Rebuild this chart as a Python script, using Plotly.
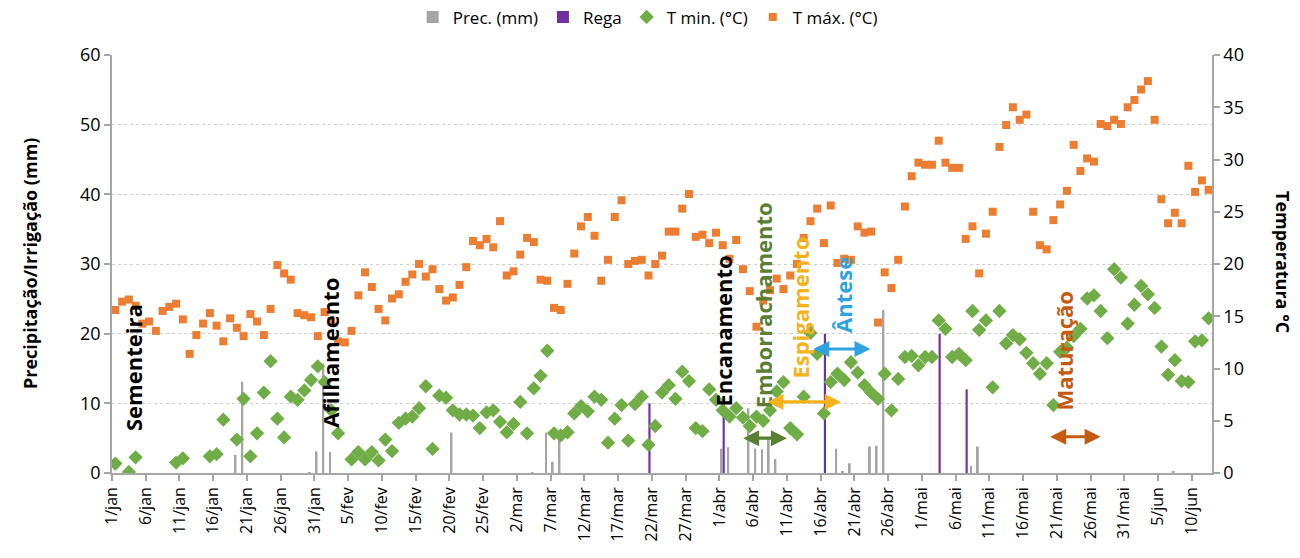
import plotly.graph_objects as go

# ---------------- data ----------------
tick_labels = ["1/jan", "6/jan", "11/jan", "16/jan", "21/jan", "26/jan", "31/jan",
               "5/fev", "10/fev", "15/fev", "20/fev", "25/fev",
               "2/mar", "7/mar", "12/mar", "17/mar", "22/mar", "27/mar",
               "1/abr", "6/abr", "11/abr", "16/abr", "21/abr", "26/abr",
               "1/mai", "6/mai", "11/mai", "16/mai", "21/mai", "26/mai", "31/mai",
               "5/jun", "10/jun"]

# day index since 1/jan (0 .. 162 -> 12/jun)
n_days = 163
days = list(range(n_days))

t_max = [15.6, 16.4, 16.6, 16.0, 14.3, 14.5, 13.6, 15.5, 15.9, 16.2,
         14.7, 11.4, 13.2, 14.3, 15.3, 14.1, 12.6, 14.8, 13.9, 13.1,
         15.2, 14.5, 13.2, 15.7, 19.9, 19.1, 18.5, 15.3, 15.1, 14.9,
         13.1, 15.4, 14.5, 12.6, 12.5, 13.6, 17.0, 19.2, 17.8, 15.7,
         14.6, 16.7, 17.1, 18.3, 19.0, 20.0, 18.8, 19.5, 17.6, 16.5,
         16.8, 18.0, 19.7, 22.2, 21.8, 22.4, 21.6, 24.1, 18.9, 19.3,
         20.9, 22.5, 22.1, 18.5, 18.4, 15.8, 15.6, 18.1, 21.0, 23.6,
         24.5, 22.7, 18.4, 20.4, 24.5, 26.1, 20.0, 20.3, 20.4, 18.9,
         20.0, 20.8, 23.1, 23.1, 25.3, 26.7, 22.6, 22.8, 22.0, 23.0,
         21.8, 20.5, 22.3, 19.5, 17.4, 14.0, 16.5, 17.5, 18.6, 17.6,
         18.9, 20.0, 22.5, 24.1, 25.3, 22.0, 25.6, 20.1, 20.5, 20.4,
         23.6, 23.0, 23.1, 14.4, 19.2, 17.7, 20.4, 25.5, 28.4, 29.7,
         29.5, 29.5, 31.8, 29.7, 29.2, 29.2, 22.4, 23.6, 19.1, 22.9,
         25.0, 31.2, 33.3, 35.0, 33.8, 34.3, 25.0, 21.8, 21.4, 24.2,
         25.7, 27.0, 31.4, 28.9, 30.1, 29.8, 33.4, 33.2, 33.8, 33.4,
         35.0, 35.7, 36.7, 37.5, 33.8, 26.2, 23.9, 24.9, 23.9, 29.4,
         26.9, 28.0, 27.1]

# None = below 0 °C (outside the axis range in the original chart)
t_min = [0.9, None, 0.1, 1.5, None, None, None, None, None, 1.0,
         1.4, None, None, None, 1.6, 1.8, 5.1, None, 3.2, 7.1,
         1.6, 3.8, 7.7, 10.7, 5.2, 3.4, 7.3, 7.0, 7.9, 8.9,
         10.2, 8.7, 6.0, 3.8, None, 1.3, 2.0, 1.3, 2.0, 1.2,
         3.2, 2.1, 4.8, 5.2, 5.4, 6.2, 8.3, 2.3, 7.4, 7.2,
         6.0, 5.6, 5.6, 5.5, 4.3, 5.8, 6.0, 4.9, 3.9, 4.7,
         6.8, 3.8, 8.1, 9.3, 11.7, 3.8, 3.6, 3.9, 5.7, 6.4,
         5.9, 7.3, 7.0, 2.9, 5.2, 6.5, 3.1, 6.6, 7.3, 2.7,
         4.5, 7.7, 8.4, 7.1, 9.7, 8.8, 4.3, 4.0, 8.0, 7.0,
         6.0, 5.4, 6.2, 5.3, 4.5, 5.4, 5.0, 6.0, 7.8, 8.7,
         4.3, 3.7, 7.3, 13.4, 11.4, 5.7, 8.7, 9.5, 8.9, 10.6,
         9.6, 8.4, 7.7, 7.1, 9.5, 6.0, 9.0, 11.1, 11.2, 10.3,
         11.1, 11.1, 14.6, 13.8, 11.1, 11.4, 10.8, 15.5, 13.7, 14.6,
         8.2, 15.5, 12.4, 13.2, 12.8, 11.5, 10.5, 9.5, 10.5, 6.5,
         11.6, 12.0, 13.1, 13.8, 16.7, 17.0, 15.5, 12.9, 19.5, 18.7,
         14.3, 16.1, 17.9, 17.1, 15.8, 12.1, 9.4, 10.8, 8.8, 8.7,
         12.6, 12.7, 14.8]

prec_days = [18, 19, 29, 30, 31, 32, 50, 62, 64, 65, 66, 90, 91, 94, 95, 96, 97, 98,
             107, 108, 109, 112, 113, 114, 127, 128, 157]
prec_mm = [2.6, 13.1, 0.1, 3.1, 15.7, 3.0, 5.8, 0.1, 5.8, 1.6, 5.8, 3.5, 3.7, 9.3, 3.5, 3.4, 5.0, 2.0,
           3.5, 0.2, 1.4, 3.8, 3.9, 23.4, 1.0, 3.8, 0.3]

rega_days = [79, 90, 105, 122, 126]
rega_mm = [10, 10, 20, 20, 12]

# phenological stages: label, centre day, centre mm-level, colour
stage_labels = ["Sementeira", "Afilhameento", "Encanamento", "Emborrachamento",
                "Espigamento", "Ântese", "Maturação"]
stage_x = [2.6, 31.9, 90.0, 96.0, 101.4, 107.9, 140.6]
stage_y = [15.2, 17.2, 20.4, 24.1, 23.7, 25.5, 17.6]
stage_colors = ["#000000", "#000000", "#000000", "#5A7E32", "#F5B21B", "#2EA3DD", "#C55A11"]

# stage duration arrows: start day, end day, mm-level, colour
arrow_start = [92.8, 96.4, 103.2, 138.3]
arrow_end = [99.5, 107.5, 111.9, 146.0]
arrow_y = [5.0, 10.2, 17.8, 5.2]
arrow_colors = ["#5A7E32", "#F5B21B", "#2EA3DD", "#C55A11"]

# ---------------- figure ----------------
FONT = "Open Sans"
fig = go.Figure()

fig.add_trace(go.Bar(x=prec_days, y=prec_mm, name="Prec. (mm)",
                     marker=dict(color="#A5A5A5", line=dict(width=0)),
                     width=0.28, offset=-0.33, yaxis="y"))
fig.add_trace(go.Bar(x=rega_days, y=rega_mm, name="Rega",
                     marker=dict(color="#7030A0", line=dict(width=0)),
                     width=0.32, offset=-0.02, yaxis="y"))
fig.add_trace(go.Scatter(x=days, y=t_min, name="T min. (°C)", mode="markers",
                         marker=dict(symbol="diamond", size=11, color="#70AD47"),
                         yaxis="y2"))
fig.add_trace(go.Scatter(x=days, y=t_max, name="T máx. (°C)", mode="markers",
                         marker=dict(symbol="square", size=8, color="#ED7D31"),
                         yaxis="y2"))

annotations = []
for lab, xx, yy, col in zip(stage_labels, stage_x, stage_y, stage_colors):
    annotations.append(dict(x=xx, y=yy, xref="x", yref="y", text="<b>%s</b>" % lab,
                            textangle=-90, showarrow=False, xanchor="center", yanchor="middle",
                            font=dict(family=FONT, size=22, color=col)))
for xs, xe, yy, col in zip(arrow_start, arrow_end, arrow_y, arrow_colors):
    annotations.append(dict(x=xe, y=yy, ax=xs, ay=yy, xref="x", yref="y", axref="x", ayref="y",
                            text="", showarrow=True, arrowside="end+start",
                            arrowhead=2, startarrowhead=2, arrowsize=1.0, startarrowsize=1.0,
                            arrowwidth=3.2, arrowcolor=col))
annotations.append(dict(x=-0.0745, y=0.5, xref="paper", yref="paper",
                        text="<b>Precipitação/Irrigação (mm)</b>", textangle=-90,
                        showarrow=False, xanchor="center", yanchor="middle",
                        font=dict(family=FONT, size=18, color="#000")))
annotations.append(dict(x=1.0645, y=0.505, xref="paper", yref="paper",
                        text="<b>Temperatura °C</b>", textangle=90,
                        showarrow=False, xanchor="center", yanchor="middle",
                        font=dict(family=FONT, size=18, color="#000")))

fig.update_layout(
    width=1300, height=558,
    margin=dict(l=112, r=88, t=55, b=85, autoexpand=False),
    paper_bgcolor="white", plot_bgcolor="white",
    font=dict(family=FONT, size=16, color="#000"),
    showlegend=True,
    legend=dict(orientation="h", x=0.487, xanchor="center", y=1.09, yanchor="middle",
                font=dict(family=FONT, size=17, color="#000"),
                itemwidth=30, traceorder="normal", bgcolor="rgba(0,0,0,0)"),
    barmode="overlay",
    xaxis=dict(range=[-0.5, n_days - 0.5],
               tickmode="array",
               tickvals=[5 * k - 0.5 for k in range(len(tick_labels))],
               ticktext=tick_labels, tickangle=-90,
               tickfont=dict(family=FONT, size=16, color="#000"),
               showgrid=False, zeroline=False,
               showline=True, linecolor="#A6A6A6", linewidth=1.5,
               ticks="outside", ticklen=6, tickcolor="#A6A6A6", tickwidth=1.5),
    yaxis=dict(range=[0, 60], tickvals=[0, 10, 20, 30, 40, 50, 60],
               tickfont=dict(family=FONT, size=18, color="#000"),
               showgrid=True, gridcolor="#D0D0D0", griddash="dot", gridwidth=1,
               zeroline=False, showline=True, linecolor="#A6A6A6", linewidth=1.5,
               ticks="outside", ticklen=6, tickcolor="#A6A6A6", tickwidth=1.5),
    yaxis2=dict(range=[0, 40], tickvals=[0, 5, 10, 15, 20, 25, 30, 35, 40],
                overlaying="y", side="right",
                tickfont=dict(family=FONT, size=18, color="#000"),
                showgrid=False, zeroline=False, showline=True, linecolor="#A6A6A6",
                linewidth=1.5, ticks="outside", ticklen=6, tickcolor="#A6A6A6", tickwidth=1.5),
    annotations=annotations,
)

fig.write_html("out.html",
               config={"displayModeBar": False},
               post_script="document.body.style.margin='0px';document.body.style.overflow='hidden';")
